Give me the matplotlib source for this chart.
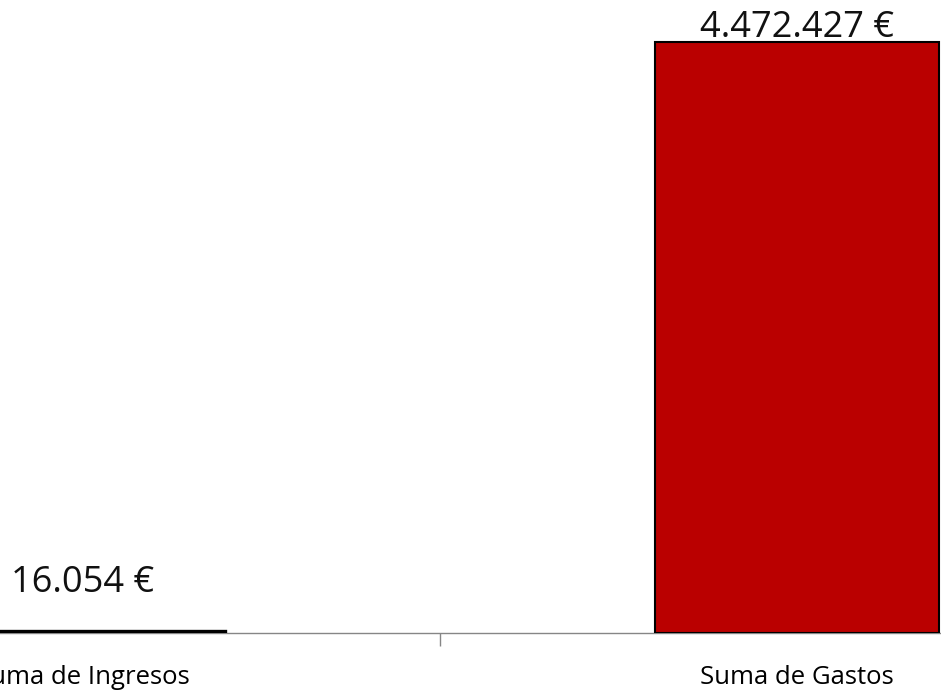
import numpy as np
import matplotlib
matplotlib.use("Agg")
import matplotlib.pyplot as plt

plt.rcParams['font.family'] = ['Open Sans', 'DejaVu Sans']

categories = ["Suma de Ingresos", "Suma de Gastos"]
values = [16054, 4472427]
labels = ["16.054 €", "4.472.427 €"]
colors = ["#000000", "#BA0000"]
# baseline offsets of the value labels above each bar top (points)
offsets = [28, 3.6]

fig = plt.figure(figsize=(9.41, 6.93), dpi=100)
ax = fig.add_axes([0, 60 / 693, 1, 633 / 693])

x = np.arange(len(categories))
bars = ax.bar(x, values, width=0.398, color=colors, edgecolor="black",
              linewidth=1.5, zorder=3)
bars[0].set_linewidth(2.4)

for xi, v, lab, off in zip(x, values, labels, offsets):
    ax.annotate(lab, (xi, v), xytext=(0, off), textcoords="offset points",
                ha="center", va="baseline", fontsize=26, color="#111111")

ax.set_xlim(-83 / 714, (941 - 83) / 714)
ax.set_ylim(0, max(values) * 633 / 591)

ax.set_xticks(x)
ax.set_xticklabels(categories, fontsize=18.5)
ax.set_xticks([0.5], minor=True)
ax.tick_params(axis="x", which="major", length=0, pad=23)
ax.tick_params(axis="x", which="minor", length=9, width=1, color="#868686")
ax.set_yticks([])

for side in ["top", "left", "right"]:
    ax.spines[side].set_visible(False)
ax.spines["bottom"].set_color("#868686")
ax.spines["bottom"].set_linewidth(1)

fig.savefig("out.png", dpi=100)
